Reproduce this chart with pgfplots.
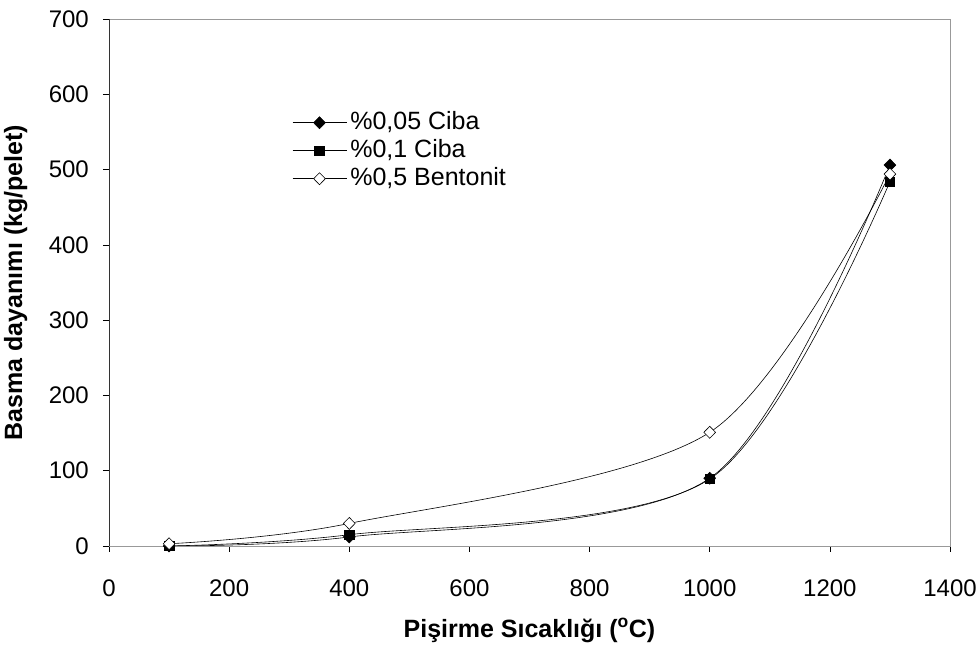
\documentclass[border=0pt]{standalone}
\usepackage{fontspec}
\setmainfont{Liberation Sans}
\usepackage{pgfplots}
\pgfplotsset{compat=1.18}
\begin{document}
\begin{tikzpicture}
\begin{axis}[
  name=ax, at={(0,0)}, anchor=south west,
  scale only axis, width=841pt, height=527pt,
  xmin=0, xmax=1400, ymin=0, ymax=700,
  xtick={0,200,...,1400}, ytick={0,100,...,700},
  tick align=outside, xtick pos=left, ytick pos=left,
  major tick length=6pt,
  tick style={black, line width=0.6pt},
  axis line style={gray!80, line width=0.6pt},
  /pgf/number format/assume math mode=true,
  /pgf/number format/1000 sep={},
  ticklabel style={font=\fontsize{24}{28}\selectfont},
  xticklabel style={anchor=north, inner sep=0pt, yshift=-28pt},
  yticklabel style={anchor=east, inner sep=0pt, xshift=-14pt},
  xlabel={\textbf{Pişirme Sıcaklığı (\textsuperscript{o}C)}},
  ylabel={\textbf{Basma dayanımı (kg/pelet)}},
  label style={font=\fontsize{25}{30}\selectfont},
  xlabel style={at={(axis description cs:0.5,-0.1727)}, anchor=base, inner sep=0pt},
  ylabel style={at={(axis description cs:-0.1034,0.5)}, anchor=base, inner sep=0pt, rotate=0},
  legend style={draw=none, fill=none, inner sep=0pt,
    at={(rel axis cs:0.2176,0.8273)}, anchor=north west,
    font=\fontsize{25}{28}\selectfont, row sep=3pt,
    nodes={inner xsep=3.5pt, inner ysep=0pt, text height=19pt, text depth=6pt}},
  legend cell align=left,
  legend image code/.code={\draw[#1] (0pt,0pt) -- (54pt,0pt) plot coordinates {(27pt,0pt)};},
  every axis plot/.append style={black, line width=0.6pt, smooth, tension=0.5},
]
\draw[black!80, line width=0.8pt] (rel axis cs:0,1) -- (rel axis cs:0,0) -- (rel axis cs:1,0);
\addplot[mark=diamond*, mark size=6pt, mark options={xscale=1.3, solid, fill=black}]
  coordinates {(100,0) (400,12) (1000,90) (1300,506)};
\addlegendentry{\%0,05 Ciba}
\addplot[mark=square*, mark size=4.8pt, mark options={solid, fill=black}]
  coordinates {(100,0) (400,15) (1000,89) (1300,484)};
\addlegendentry{\%0,1 Ciba}
\addplot[mark=diamond*, mark size=6pt, mark options={xscale=1.3, solid, fill=white}]
  coordinates {(100,3) (400,30) (1000,151) (1300,494)};
\addlegendentry{\%0,5 Bentonit}
\end{axis}
\pgfresetboundingbox
\path (-109pt,-101pt) rectangle (870pt,546pt);
\end{tikzpicture}
\end{document}
